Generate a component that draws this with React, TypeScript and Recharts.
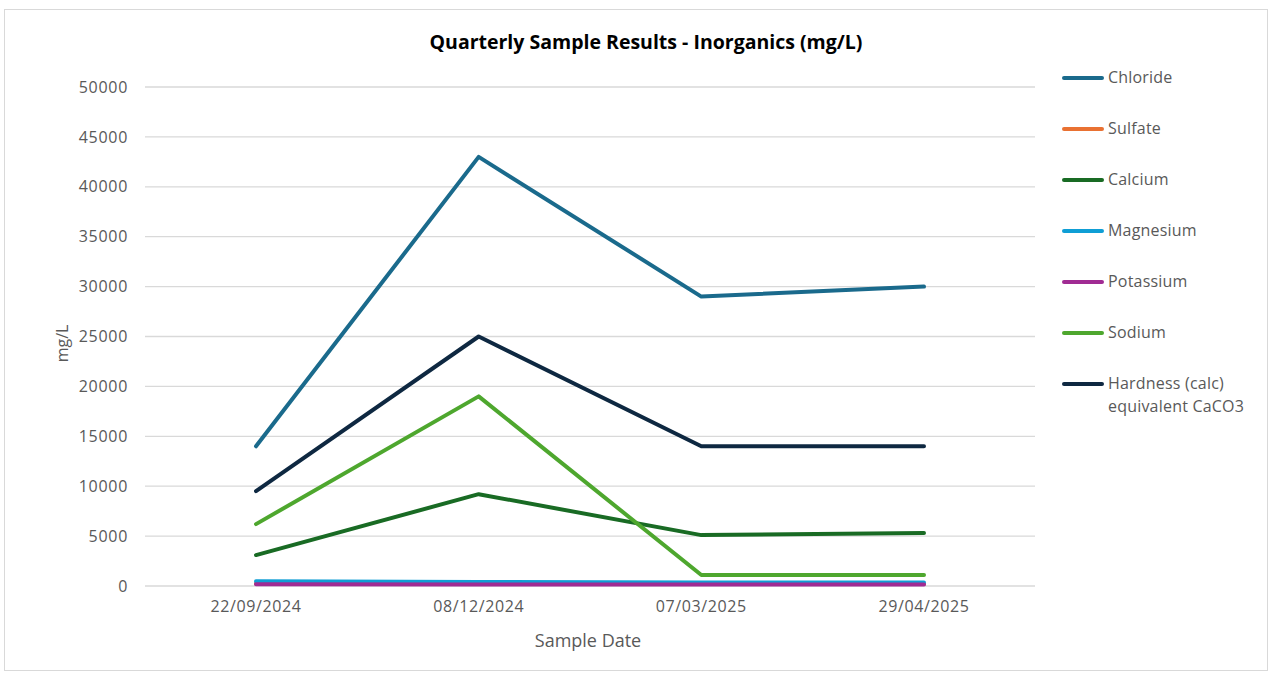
import React from 'react';
import { LineChart, Line, XAxis, YAxis, CartesianGrid, Legend } from 'recharts';

const dates = ['22/09/2024', '08/12/2024', '07/03/2025', '29/04/2025'];
const chloride = [14000, 43000, 29000, 30000];
const sulfate = [250, 200, 200, 200];
const calcium = [3100, 9200, 5100, 5300];
const magnesium = [480, 400, 360, 360];
const potassium = [180, 150, 160, 160];
const sodium = [6200, 19000, 1100, 1100];
const hardness = [9500, 25000, 14000, 14000];
const yTicks = [0, 5000, 10000, 15000, 20000, 25000, 30000, 35000, 40000, 45000, 50000];

const series = [
  { key: 'chloride', name: 'Chloride', color: '#1a6a8c', values: chloride },
  { key: 'sulfate', name: 'Sulfate', color: '#E97132', values: sulfate },
  { key: 'calcium', name: 'Calcium', color: '#196B24', values: calcium },
  { key: 'magnesium', name: 'Magnesium', color: '#0F9ED5', values: magnesium },
  { key: 'potassium', name: 'Potassium', color: '#A02B93', values: potassium },
  { key: 'sodium', name: 'Sodium', color: '#4EA72E', values: sodium },
  { key: 'hardness', name: 'Hardness (calc) equivalent CaCO3', color: '#0E2841', values: hardness },
];

const data = dates.map((d, i) => {
  const row: Record<string, any> = { date: d };
  series.forEach((s) => {
    row[s.key] = s.values[i];
  });
  return row;
});

const FONT = '"Open Sans", "Noto Sans", sans-serif';
const GREY = '#595959';

const LegendContent = () => (
  <div style={{ fontFamily: FONT, fontSize: 16, color: GREY, letterSpacing: 0.2 }}>
    {series.map((s) => (
      <div key={s.key} style={{ display: 'flex', alignItems: 'flex-start', height: 51 }}>
        <span
          style={{
            display: 'inline-block',
            width: 42,
            height: 4,
            background: s.color,
            borderRadius: 2,
            marginTop: 10,
            marginRight: 4,
            flex: '0 0 auto',
          }}
        />
        <span style={{ width: 145, lineHeight: '23px' }}>{s.name}</span>
      </div>
    ))}
  </div>
);

export default function App() {
  return (
    <div
      style={{
        position: 'absolute',
        left: 4,
        top: 9,
        width: 1262,
        height: 660,
        border: '1px solid #d9d9d9',
        background: '#fff',
      }}
    >
      <div
        style={{
          position: 'absolute',
          left: 0,
          top: 18,
          width: 1282,
          textAlign: 'center',
          fontFamily: FONT,
          fontWeight: 700,
          fontSize: 19.5,
          color: '#000',
          zIndex: 2,
        }}
      >
        Quarterly Sample Results - Inorganics (mg/L)
      </div>
      <LineChart
        width={1262}
        height={660}
        data={data}
        margin={{ top: 77, right: 32, bottom: 24, left: 0 }}
      >
        <CartesianGrid vertical={false} stroke="#d9d9d9" strokeWidth={1.3} />
        <XAxis
          dataKey="date"
          axisLine={false}
          tickLine={false}
          tickSize={0}
          tickMargin={15}
          height={60}
          padding={{ left: 111, right: 111 }}
          tick={{ fill: GREY, fontSize: 16, fontFamily: FONT, letterSpacing: 0.6 }}
          label={{
            content: (props: any) => {
              const vb = props.viewBox || {};
              return (
                <text
                  x={vb.x + vb.width / 2 - 2}
                  y={637}
                  textAnchor="middle"
                  fill={GREY}
                  fontSize={18}
                  fontFamily={FONT}
                >
                  Sample Date
                </text>
              );
            },
          }}
        />
        <YAxis
          width={140}
          domain={[0, 50000]}
          ticks={yTicks}
          interval={0}
          axisLine={false}
          tickLine={false}
          tickSize={0}
          tickMargin={17}
          tick={{ fill: GREY, fontSize: 16, fontFamily: FONT, letterSpacing: 0.7 }}
          label={{
            content: (props: any) => {
              const vb = props.viewBox || {};
              const cy = vb.y + vb.height / 2 + 7;
              return (
                <text
                  x={57}
                  y={cy}
                  transform={`rotate(-90 57 ${cy})`}
                  textAnchor="middle"
                  dominantBaseline="central"
                  fill={GREY}
                  fontSize={16}
                  fontFamily={FONT}
                >
                  mg/L
                </text>
              );
            },
          }}
        />
        <Legend
          layout="vertical"
          align="right"
          verticalAlign="top"
          width={200}
          content={<LegendContent />}
          wrapperStyle={{ left: 1057, top: 56, right: 'auto' }}
        />
        {series.map((s) => (
          <Line
            key={s.key}
            type="linear"
            dataKey={s.key}
            name={s.name}
            stroke={s.color}
            strokeWidth={4}
            strokeLinecap="round"
            strokeLinejoin="round"
            dot={false}
            activeDot={false}
            isAnimationActive={false}
          />
        ))}
      </LineChart>
    </div>
  );
}
